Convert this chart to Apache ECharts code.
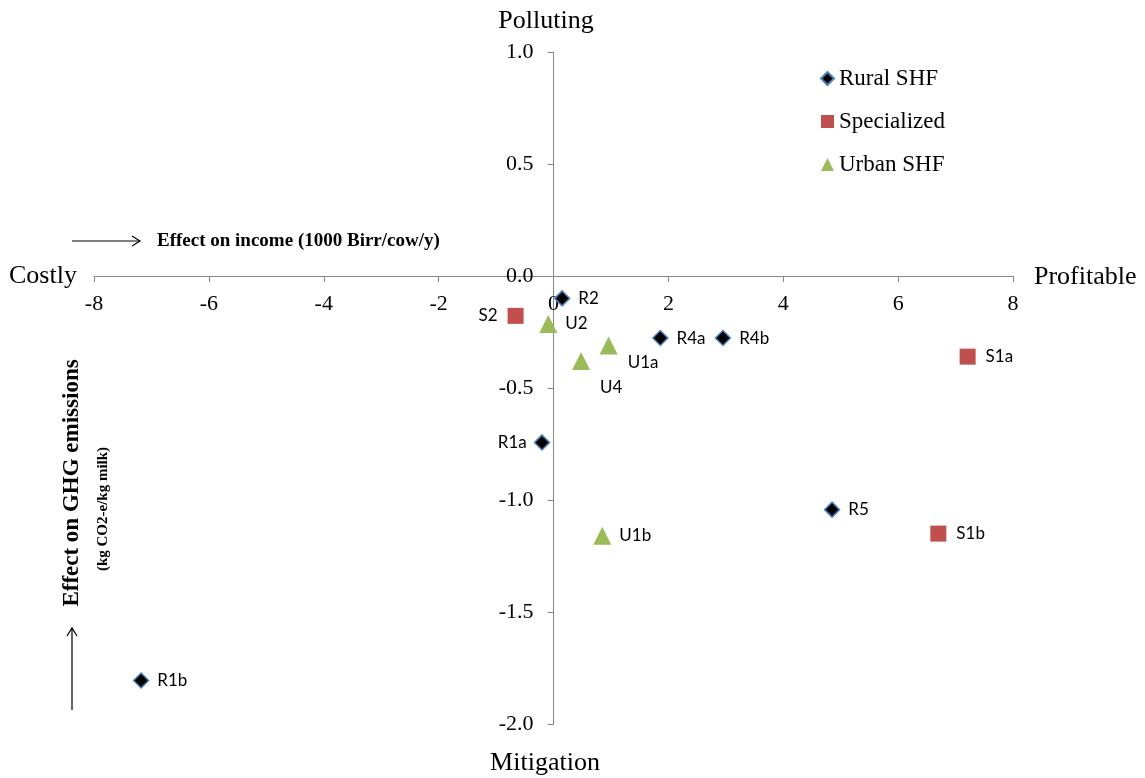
<!DOCTYPE html>
<html>
<head>
<meta charset="utf-8">
<script src="https://cdn.jsdelivr.net/npm/echarts@6/dist/echarts.min.js"></script>
<style>
  html, body { margin: 0; padding: 0; background: #fff; }
  #chart { width: 1145px; height: 778px; }
</style>
</head>
<body>
<div id="chart"></div>
<script>
// scenario data
var ruralNames = ['R2', 'R4a', 'R4b', 'R1a', 'R5', 'R1b'];
var ruralX = [0.15, 1.86, 2.95, -0.2, 4.85, -7.18];
var ruralY = [-0.1, -0.277, -0.277, -0.743, -1.043, -1.806];

var specNames = ['S2', 'S1a', 'S1b'];
var specX = [-0.66, 7.21, 6.7];
var specY = [-0.178, -0.36, -1.15];

var urbanNames = ['U2', 'U1a', 'U4', 'U1b'];
var urbanX = [-0.09, 0.96, 0.48, 0.85];
var urbanY = [-0.214, -0.31, -0.379, -1.16];

var xTicks = [-8, -6, -4, -2, 0, 2, 4, 6, 8];
var yTicks = [1.0, 0.5, 0.0, -0.5, -1.0, -1.5, -2.0];

// where each point label sits (style only)
var labelPlace = {
  S2: { position: 'left', distance: 10 },
  R1a: { position: 'left', distance: 7 },
  U1a: { position: 'right', offset: [2, 17] },
  U4: { position: 'right', offset: [2, 27] }
};

var serif = '"Liberation Serif", "Times New Roman", serif';
var sans = 'Lato, "Open Sans", "Liberation Sans", sans-serif';

// grid box, axes are pulled in to cross at (0, 0) like the original
var G = { left: 94, right: 132, top: 52, bottom: 54, w: 1145, h: 778 };
var gw = G.w - G.left - G.right;
var gh = G.h - G.top - G.bottom;
var xMin = xTicks[0], xMax = xTicks[xTicks.length - 1];
var yMin = yTicks[yTicks.length - 1], yMax = yTicks[0];
var xZeroOffset = -gw * (0 - xMin) / (xMax - xMin);
var yZeroOffset = -gh * (0 - yMin) / (yMax - yMin);

function build(names, xs, ys) {
  return names.map(function (n, i) {
    var item = { name: n, value: [xs[i], ys[i]] };
    if (labelPlace[n]) item.label = labelPlace[n];
    return item;
  });
}

var chart = echarts.init(document.getElementById('chart'));

var pointLabel = {
  show: true,
  position: 'right',
  distance: 8,
  formatter: '{b}',
  color: '#000',
  fontFamily: sans,
  fontSize: 17
};

chart.setOption({
  animation: false,
  grid: { left: G.left, right: G.right, top: G.top, bottom: G.bottom },
  legend: {
    orient: 'vertical',
    left: 815,
    top: 62,
    itemGap: 20,
    itemWidth: 13,
    itemHeight: 13,
    textStyle: { fontFamily: serif, fontSize: 23, color: '#000', lineHeight: 23 },
    data: ['Rural SHF', 'Specialized', 'Urban SHF']
  },
  xAxis: {
    type: 'value',
    position: 'bottom',
    offset: yZeroOffset,
    min: xMin,
    max: xMax,
    interval: 2,
    axisLine: { onZero: false, lineStyle: { color: '#868686', width: 1 } },
    axisTick: { show: true, length: 6, lineStyle: { color: '#868686' } },
    axisLabel: { fontFamily: serif, fontSize: 22, color: '#000', margin: 17 },
    splitLine: { show: false }
  },
  yAxis: {
    type: 'value',
    position: 'left',
    offset: xZeroOffset,
    min: yMin,
    max: yMax,
    interval: 0.5,
    axisLine: { onZero: false, lineStyle: { color: '#868686', width: 1 } },
    axisTick: { show: true, length: 6, lineStyle: { color: '#868686' } },
    axisLabel: {
      fontFamily: serif, fontSize: 22, color: '#000', margin: 20,
      formatter: function (v) { return v.toFixed(1); }
    },
    splitLine: { show: false }
  },
  graphic: [
    { type: 'text', x: 546, y: 21, style: { text: 'Polluting', font: '26px ' + serif, fill: '#000', align: 'center', verticalAlign: 'middle' } },
    { type: 'text', x: 545, y: 763, style: { text: 'Mitigation', font: '26px ' + serif, fill: '#000', align: 'center', verticalAlign: 'middle' } },
    { type: 'text', x: 9, y: 276, style: { text: 'Costly', font: '26px ' + serif, fill: '#000', align: 'left', verticalAlign: 'middle' } },
    { type: 'text', x: 1034, y: 277, style: { text: 'Profitable', font: '26px ' + serif, fill: '#000', align: 'left', verticalAlign: 'middle' } },
    { type: 'polyline', shape: { points: [[72, 241], [140, 241]] }, style: { stroke: '#000', lineWidth: 1.2 } },
    { type: 'polyline', shape: { points: [[132, 236], [140, 241], [132, 246]] }, style: { stroke: '#000', lineWidth: 1.2, fill: null } },
    { type: 'text', x: 157, y: 241, style: { text: 'Effect on income (1000 Birr/cow/y)', font: 'bold 19px ' + serif, fill: '#000', align: 'left', verticalAlign: 'middle' } },
    { type: 'text', x: 72, y: 483, rotation: Math.PI / 2, style: { text: 'Effect on GHG emissions', font: 'bold 23px ' + serif, fill: '#000', align: 'center', verticalAlign: 'middle' } },
    { type: 'text', x: 103, y: 509, rotation: Math.PI / 2, style: { text: '(kg CO2-e/kg milk)', font: 'bold 15px ' + serif, fill: '#000', align: 'center', verticalAlign: 'middle' } },
    { type: 'polyline', shape: { points: [[72, 710], [72, 628]] }, style: { stroke: '#000', lineWidth: 1.2 } },
    { type: 'polyline', shape: { points: [[67, 636], [72, 628], [77, 636]] }, style: { stroke: '#000', lineWidth: 1.2, fill: null } }
  ],
  series: [
    {
      name: 'Rural SHF',
      type: 'scatter',
      symbol: 'diamond',
      symbolSize: 15,
      itemStyle: { color: '#000', borderColor: '#4f81bd', borderWidth: 1.5, opacity: 1 },
      label: pointLabel,
      data: build(ruralNames, ruralX, ruralY)
    },
    {
      name: 'Specialized',
      type: 'scatter',
      symbol: 'rect',
      symbolSize: 16,
      itemStyle: { color: '#c0504d', opacity: 1 },
      label: Object.assign({}, pointLabel, { distance: 10 }),
      data: build(specNames, specX, specY)
    },
    {
      name: 'Urban SHF',
      type: 'scatter',
      symbol: 'triangle',
      symbolSize: 18,
      itemStyle: { color: '#9bbb59', opacity: 1 },
      label: pointLabel,
      data: build(urbanNames, urbanX, urbanY)
    }
  ]
});
</script>
</body>
</html>
